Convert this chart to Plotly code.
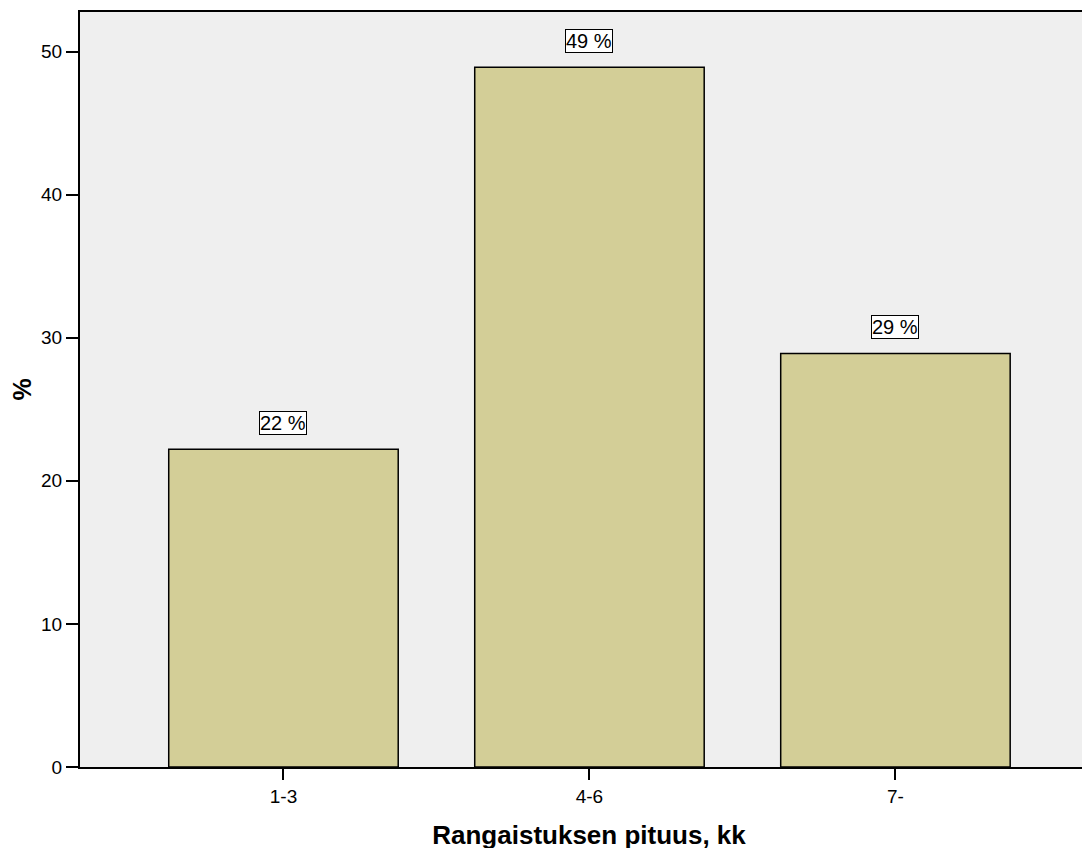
import plotly.graph_objects as go

categories = ["1-3", "4-6", "7-"]
values = [22.2, 48.9, 28.9]
labels = ["22 %", "49 %", "29 %"]
y_ticks = [0, 10, 20, 30, 40, 50]

fig = go.Figure()
fig.add_trace(go.Bar(
    x=categories, y=values, width=0.75,
    marker=dict(color="#D3CE97", line=dict(color="black", width=1.5)),
    hoverinfo="skip",
))
for c, v, t in zip(categories, values, labels):
    fig.add_annotation(x=c, y=v, text=t, showarrow=False, yanchor="bottom", yshift=14,
                       font=dict(family="Liberation Sans, Arial", size=20, color="black"),
                       bgcolor="white", bordercolor="black", borderwidth=1, borderpad=0)

fig.update_layout(
    width=1090, height=848,
    margin=dict(l=72, r=0, t=4, b=89),
    plot_bgcolor="#EFEFEF", paper_bgcolor="white",
    showlegend=False,
    font=dict(family="Liberation Sans, Arial", color="black"),
    xaxis=dict(range=[-0.665, 2.662], showline=True, linecolor="black", linewidth=2, mirror=True,
               ticks="outside", ticklen=11, tickwidth=2, tickcolor="black",
               tickfont=dict(size=19), showgrid=False, automargin=False,
               title=dict(text="<b>Rangaistuksen pituus, kk</b>", font=dict(size=26), standoff=20)),
    yaxis=dict(range=[0, 52.76], tickvals=y_ticks, showline=True, linecolor="black", linewidth=2,
               ticks="outside", ticklen=12, tickwidth=2, tickcolor="black",
               tickfont=dict(size=19), showgrid=False, zeroline=False, automargin=False,
               title=dict(text="<b>%</b>", font=dict(size=25), standoff=14)),
)
fig.write_html("out.html")
